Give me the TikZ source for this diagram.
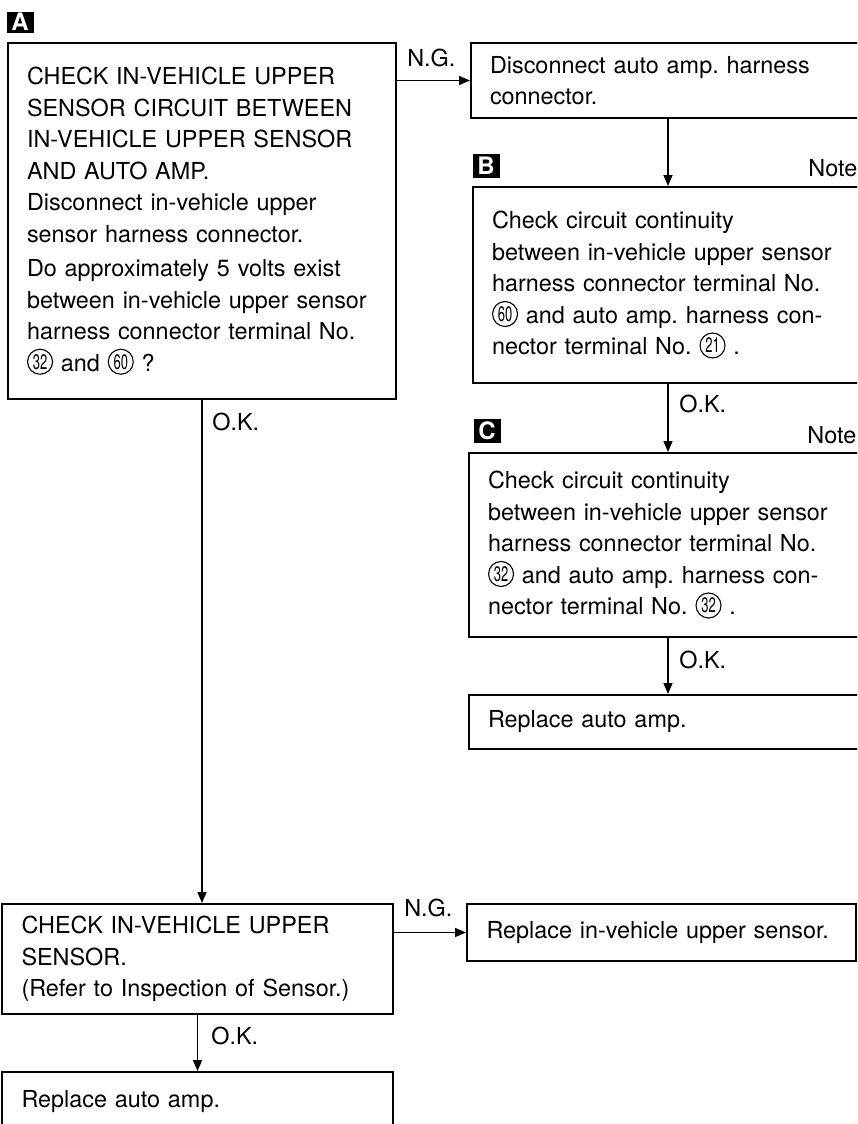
\documentclass[tikz,border=0pt]{standalone}
\usepackage{fontspec}
\setmainfont{TeX Gyre Heros}
\usetikzlibrary{arrows.meta}
\frenchspacing

% circled terminal number
\newcommand{\cnum}[1]{%
  \tikz[baseline={([yshift=1.8pt]cn.south)}, x=1cm, y=1cm]
    \node[circle, draw, fill=none, text=black, line width=0.55pt,
          inner sep=0pt, minimum width=12.5pt, minimum height=12.5pt,
          text width={}, anchor=center,
          font=\fontsize{10.5}{10.5}\selectfont] (cn) {\scalebox{0.62}[1]{#1}};%
}

\begin{document}
\begin{tikzpicture}[
    x=0.5pt,
    y=-0.5pt,
    box/.style={draw, line width=1pt, inner xsep=9.5pt, inner ysep=0pt,
                align=left, anchor=north west,
                font=\fontsize{11.7}{15.75}\selectfont},
    marker/.style={fill=black, text=white, inner sep=0pt,
                   minimum width=13.5pt, minimum height=12pt,
                   font=\bfseries\fontsize{12}{12}\selectfont},
    flow/.style={line width=0.8pt, -{Triangle[length=5.5pt, width=4.5pt]}},
    answer/.style={anchor=base west, inner sep=0pt,
                   font=\fontsize{11.7}{14}\selectfont}
]

% -------------------------------------------------------------------------
% Page
% -------------------------------------------------------------------------
\useasboundingbox (0,0) rectangle (857,1124);
\clip (0,0) rectangle (857,1124);

% -------------------------------------------------------------------------
% Step A: circuit check
% -------------------------------------------------------------------------
\node[marker, minimum height=10.5pt] (mA) at (20,22) {A};

\node[box, minimum width=194pt, minimum height=178pt, text width=175pt]
    (chkA) at (7,42) {%
    CHECK IN-VEHICLE UPPER\\
    SENSOR CIRCUIT BETWEEN\\
    IN-VEHICLE UPPER SENSOR\\
    AND AUTO AMP.\\
    Disconnect in-vehicle upper\\
    sensor harness connector.\\[1.5pt]
    Do approximately 5 volts exist\\
    between in-vehicle upper sensor\\
    harness connector terminal No.\\
    \cnum{32} and \cnum{60} ?};

% -------------------------------------------------------------------------
% N.G. branch of A
% -------------------------------------------------------------------------
\node[box, minimum width=197pt, minimum height=37.5pt, text width=178pt]
    (disc) at (470,42) {%
    Disconnect auto amp. harness\\
    connector.};

\node[marker] (mB) at (486,166) {B};
\node[answer] (noteB) at (808,176) {Note};

\node[box, minimum width=195pt, minimum height=98pt, text width=176pt]
    (chkB) at (472,186) {%
    Check circuit continuity\\
    between in-vehicle upper sensor\\
    harness connector terminal No.\\
    \cnum{60} and auto amp. harness con-\\
    nector terminal No. \cnum{21} .};

\node[marker] (mC) at (487,431) {C};
\node[answer] (noteC) at (807,443) {Note};

\node[box, minimum width=199pt, minimum height=92pt, text width=180pt]
    (chkC) at (468,452) {%
    Check circuit continuity\\
    between in-vehicle upper sensor\\
    harness connector terminal No.\\
    \cnum{32} and auto amp. harness con-\\
    nector terminal No. \cnum{32} .};

\node[box, minimum width=199pt, minimum height=27pt, text width=180pt]
    (ampR) at (468,694) {Replace auto amp.};

% -------------------------------------------------------------------------
% O.K. branch of A: sensor check
% -------------------------------------------------------------------------
\node[box, minimum width=195.5pt, minimum height=55pt, text width=176pt]
    (sens) at (1,903) {%
    CHECK IN-VEHICLE UPPER\\
    SENSOR.\\
    (Refer to Inspection of Sensor.)};

\node[box, minimum width=194.5pt, minimum height=28.5pt, text width=175pt]
    (sensR) at (466,903) {Replace in-vehicle upper sensor.};

\node[box, minimum width=195.5pt, minimum height=30pt, text width=176pt]
    (ampL) at (1,1071) {Replace auto amp.};

% -------------------------------------------------------------------------
% Connectors
% -------------------------------------------------------------------------
\draw[flow] (chkA.east |- disc.west) -- (disc.west);
\draw[flow] (disc.south) -- (chkB.north);
\draw[flow] (chkB.south) -- (chkC.north);
\draw[flow] (chkC.south) -- (ampR.north);
\draw[flow] (chkA.south) -- (chkA.south |- sens.north);
\draw[flow] (sens.east |- sensR.west) -- (sensR.west);
\draw[flow] (sens.south) -- (ampL.north);

% -------------------------------------------------------------------------
% Answer labels
% -------------------------------------------------------------------------
\node[answer] (ngA) at (407,66) {N.G.};
\node[answer] (okA) at (212,430) {O.K.};
\node[answer] (okB) at (679,412) {O.K.};
\node[answer] (okC) at (679,668) {O.K.};
\node[answer] (ngS) at (404,916) {N.G.};
\node[answer] (okS) at (211,1044) {O.K.};

\end{tikzpicture}
\end{document}
